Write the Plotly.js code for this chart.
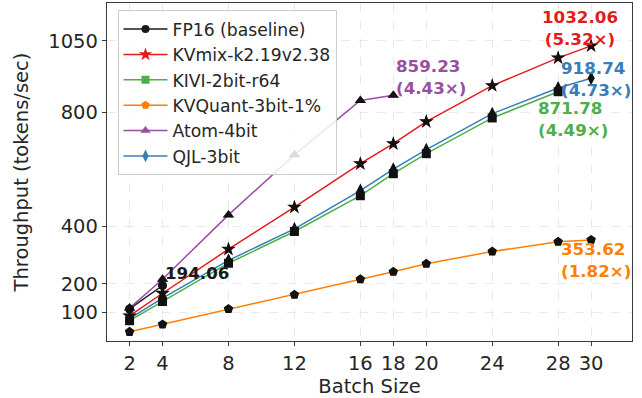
<!DOCTYPE html>
<html>
<head>
<meta charset="utf-8">
<script src="https://cdn.plot.ly/plotly-3.0.1.min.js"></script>
<style>html,body{margin:0;padding:0;background:#fff;}#chart{width:642px;height:398px;}</style>
</head>
<body>
<div id="chart"></div>
<script>
// ---- data ----
const batchAll = [2, 4, 8, 12, 16, 18, 20, 24, 28, 30];
const batchFP16 = [2, 4];
const batchKIVI = [2, 4, 8, 12, 16, 18, 20, 24, 28];
const batchAtom = [2, 4, 8, 12, 16, 18];

const fp16 = [112, 194.06];
const kvmix = [88, 167, 321, 468, 620, 690, 767, 893, 990, 1032.06];
const kivi = [71, 138, 272, 383, 508, 585, 655, 780, 871.78];
const kvquant = [32, 58, 112, 162, 216, 242, 270, 313, 347, 353.62];
const atom = [115, 216, 441, 651, 841, 859.23];
const qjl = [78, 150, 282, 392, 526, 601, 669, 795, 885, 918.74];

const seriesNames = ["FP16 (baseline)", "KVmix-k2.19v2.38", "KIVI-2bit-r64", "KVQuant-3bit-1%", "Atom-4bit", "QJL-3bit"];

const xTicks = [2, 4, 8, 12, 16, 18, 20, 24, 28, 30];
const yTicks = [100, 200, 400, 800, 1050];

// annotation labels
const labelTexts = ["1032.06<br>(5.32×)", "859.23<br>(4.43×)", "918.74<br>(4.73×)", "871.78<br>(4.49×)", "353.62<br>(1.82×)", "194.06"];
const labelX = [29.3, 18.05, 28.05, 26.65, 28.05, 4.05];
const labelY = [1095, 924, 917, 775, 282, 238];

// ---- styling ----
const FONT = "DejaVu Sans, Liberation Sans, sans-serif";
const colors = ["#1a1a1a", "#e41a1c", "#4daf4a", "#ff7f00", "#984ea3", "#377eb8"];
const symbols = ["circle", "star", "square", "pentagon", "triangle-up", "diamond-tall"];
const sizes = [8, 10, 8, 9, 9, 9];
const labelColors = ["#e41a1c", "#984ea3", "#377eb8", "#4daf4a", "#ff7f00", "#1a1a1a"];
const labelAlign = ["center", "left", "left", "left", "left", "left"];
const labelXAnchor = ["center", "left", "left", "left", "left", "left"];

const xs = [batchFP16, batchAll, batchKIVI, batchAll, batchAtom, batchAll];
const ys = [fp16, kvmix, kivi, kvquant, atom, qjl];

const traces = [];
for (let i = 0; i < ys.length; i++) {
  traces.push({
    x: xs[i], y: ys[i], name: seriesNames[i], type: "scatter", mode: "lines+markers",
    line: {color: colors[i], width: 1.5},
    marker: {color: colors[i], symbol: symbols[i], size: sizes[i]},
    showlegend: true
  });
}
for (let i = 0; i < ys.length; i++) {
  traces.push({
    x: xs[i], y: ys[i], type: "scatter", mode: "markers",
    marker: {color: "#111", symbol: symbols[i], size: sizes[i] + 1},
    showlegend: false, hoverinfo: "skip"
  });
}

const annotations = labelTexts.map((t, i) => ({
  x: labelX[i], y: labelY[i], xref: "x", yref: "y", text: "<b>" + t + "</b>",
  showarrow: false, xanchor: labelXAnchor[i], yanchor: "middle", align: labelAlign[i],
  font: {family: FONT, size: 16.7, color: labelColors[i]}
}));

const layout = {
  width: 642, height: 398,
  margin: {l: 107, r: 10, t: 3, b: 57, pad: 0},
  paper_bgcolor: "#ffffff", plot_bgcolor: "#ffffff",
  font: {family: FONT, color: "#262626"},
  xaxis: {
    range: [0.63, 32.48], tickvals: xTicks, ticktext: xTicks.map(String),
    tickfont: {family: FONT, size: 19.5, color: "#262626"},
    title: {text: "Batch Size", font: {family: FONT, size: 19.5, color: "#262626"}, standoff: 8},
    showline: true, mirror: true, linecolor: "#3a3a3a", linewidth: 1.2,
    ticks: "outside", ticklen: 4, tickcolor: "#3a3a3a",
    showgrid: true, gridcolor: "#e4e4e4", griddash: "dash", gridwidth: 0.8, zeroline: false
  },
  yaxis: {
    range: [0, 1182], tickvals: yTicks, ticktext: yTicks.map(String),
    tickfont: {family: FONT, size: 19.5, color: "#262626"},
    title: {text: "Throughput (tokens/sec)", font: {family: FONT, size: 19.5, color: "#262626"}, standoff: 14},
    showline: true, mirror: true, linecolor: "#3a3a3a", linewidth: 1.2,
    ticks: "outside", ticklen: 4, tickcolor: "#3a3a3a",
    showgrid: true, gridcolor: "#e4e4e4", griddash: "dash", gridwidth: 0.8, zeroline: false
  },
  legend: {
    x: 0.02, y: 0.978, xanchor: "left", yanchor: "top",
    bgcolor: "rgba(255,255,255,0.85)", bordercolor: "#cccccc", borderwidth: 1,
    font: {family: FONT, size: 17.2, color: "#262626"},
    itemwidth: 44, tracegroupgap: 0
  },
  annotations: annotations,
  showlegend: true
};

Plotly.newPlot("chart", traces, layout, {staticPlot: true, displayModeBar: false});
</script>
</body>
</html>
